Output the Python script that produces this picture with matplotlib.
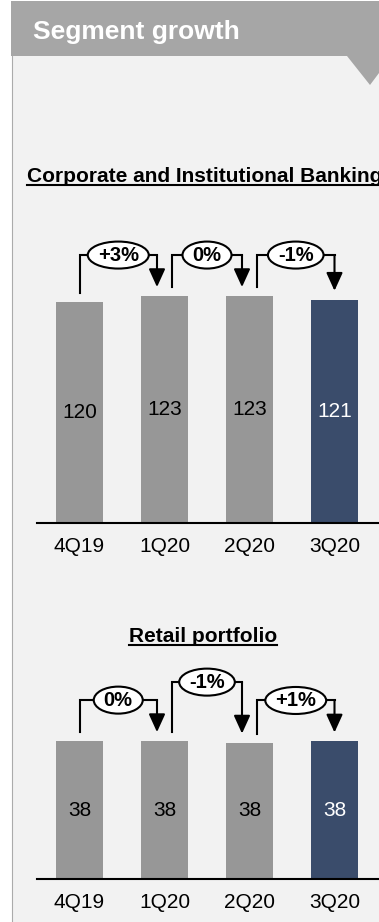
import numpy as np
import matplotlib.pyplot as plt
from matplotlib.patches import Rectangle, Polygon, Ellipse

plt.rcParams['font.family'] = ['Liberation Sans', 'DejaVu Sans']

# --- data ---
quarters = ['4Q19', '1Q20', '2Q20', '3Q20']
cib_values = [120, 123, 123, 121]
cib_growth = ['+3%', '0%', '-1%']
retail_values = [38.3, 38.3, 37.9, 38.2]
retail_growth = ['0%', '-1%', '+1%']

W, H = 379, 922
BAR_GRAY = '#979797'
BAR_NAVY = '#3a4c6b'
PANEL_BG = '#f2f2f2'
HEADER_BG = '#a6a6a6'
STEP = 85.0  # pixels between bar centres

fig = plt.figure(figsize=(W / 100, H / 100), dpi=100)

# background layer in pixel coordinates (y pointing down)
bg = fig.add_axes([0, 0, 1, 1])
bg.set_xlim(0, W)
bg.set_ylim(H, 0)
bg.axis('off')
bg.add_patch(Rectangle((12, 56), W - 12, H - 56, fc=PANEL_BG, ec='none'))
bg.plot([12, 12], [56, H], color='#ababab', lw=0.8)
bg.add_patch(Rectangle((11, 1), W - 11, 55, fc=HEADER_BG, ec='none'))
bg.add_patch(Polygon([(347, 56), (370, 85), (379, 73), (379, 56)], fc=HEADER_BG, ec='none'))
bg.text(33, 39, 'Segment growth', color='white', fontsize=19, fontweight='bold', va='baseline')

titles = [
    bg.text(27, 182, 'Corporate and Institutional Banking', fontsize=15, fontweight='bold', va='baseline'),
    bg.text(203, 642, 'Retail portfolio', fontsize=15, fontweight='bold', va='baseline', ha='center'),
]


def make_axes(base, top, ppy):
    ax = fig.add_axes([37 / W, 1 - base / H, (W - 37) / W, (base - top) / H])
    ax.set_facecolor('none')
    ax.set_xlim(-0.5, (W - 79.5) / STEP)
    ax.set_ylim(0, (base - top) / ppy)
    for s in ['top', 'left', 'right']:
        ax.spines[s].set_visible(False)
    ax.spines['bottom'].set_linewidth(1.5)
    ax.set_yticks([])
    return ax


growth_labels = []


def draw_chart(ax, values, growth, ppy, stagger):
    n = len(values)
    x = np.arange(n)
    colors = [BAR_GRAY] * (n - 1) + [BAR_NAVY]
    ax.bar(x, values, width=47 / STEP, color=colors, zorder=2)
    for i, v in enumerate(values):
        ax.text(i, v / 2, f'{v:.0f}', ha='center', va='center', fontsize=15,
                color='white' if i == n - 1 else 'black', zorder=3)
    ax.set_xticks(x, quarters)
    ax.tick_params(axis='x', length=0, pad=10, labelsize=15)

    for i, g in enumerate(growth):
        x0 = i + (7.5 / STEP if i > 0 else 0)
        x1 = i + 1 - (7.5 / STEP if i + 1 < n - 1 else 0)
        y0 = values[i] + 9 / ppy
        y1 = values[i + 1] + 9 / ppy
        level = max(values[i], values[i + 1]) + (41 + stagger[i]) / ppy
        ax.plot([x0, x0, x1], [y0, level, level], color='black', lw=1.5,
                solid_joinstyle='miter', solid_capstyle='projecting', zorder=3, clip_on=False)
        ax.annotate('', xy=(x1, y1), xytext=(x1, level),
                    arrowprops=dict(arrowstyle='-|>,head_length=0.55,head_width=0.25',
                                    color='black', lw=1.5, shrinkA=0, shrinkB=0,
                                    mutation_scale=20),
                    zorder=3, annotation_clip=False)
        t = ax.text((x0 + x1) / 2, level, g, ha='center', va='center',
                    fontsize=14.5, fontweight='bold', zorder=5)
        growth_labels.append((ax, t, (x0 + x1) / 2, level, ppy))


ax1 = make_axes(523, 235, 1.845)
draw_chart(ax1, cib_values, cib_growth, 1.845, [0, 0, 0])

ax2 = make_axes(879, 660, 3.6)
draw_chart(ax2, retail_values, retail_growth, 3.6, [0, 18, 0])

# ellipses sized to their labels, underlines under section titles
fig.canvas.draw()
renderer = fig.canvas.get_renderer()
for ax, t, cx, cy, ppy in growth_labels:
    w = t.get_window_extent(renderer).width
    ax.add_patch(Ellipse((cx, cy), (w + 20) / STEP, 27 / ppy, fc='white', ec='black',
                         lw=1.5, zorder=4, clip_on=False))

for t in titles:
    ext = t.get_window_extent(renderer)
    yb = t.get_position()[1] + 3
    bg.plot([ext.x0, min(ext.x1, W)], [yb, yb], color='black', lw=1.5)

fig.savefig('out.png', dpi=100)
